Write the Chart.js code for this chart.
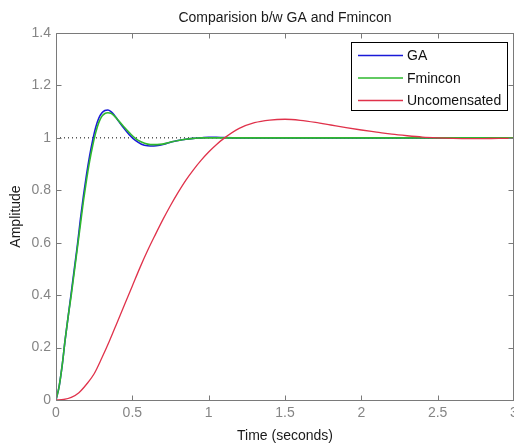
<!DOCTYPE html>
<html>
<head>
<meta charset="utf-8">
<script src="https://cdn.jsdelivr.net/npm/chart.js@4.4.1/dist/chart.umd.min.js"></script>
<style>
html,body{margin:0;padding:0;background:#fff;}
#wrap{width:514px;height:443px;}
</style>
</head>
<body>
<div id="wrap"><canvas id="c" width="514" height="443"></canvas></div>
<script>
// ---- data ----
const titleText = 'Comparision b/w GA and Fmincon';
const xTitle = 'Time (seconds)';
const yTitle = 'Amplitude';
const xTicks = [0, 0.5, 1, 1.5, 2, 2.5, 3];
const xTickLabels = ['0', '0.5', '1', '1.5', '2', '2.5', '3'];
const yTicks = [0, 0.2, 0.4, 0.6, 0.8, 1, 1.2, 1.4];
const yTickLabels = ['0', '0.2', '0.4', '0.6', '0.8', '1', '1.2', '1.4'];

const gaT = [0,0.02,0.04,0.06,0.08,0.10,0.12,0.14,0.16,0.18,0.20,0.22,0.24,0.26,0.28,0.30,0.32,0.34,0.36,0.38,0.40,0.44,0.48,0.52,0.56,0.60,0.64,0.68,0.72,0.76,0.80,0.85,0.90,0.95,1.00,1.05,1.10,1.20,1.50,2.00,2.50,3.00];
const gaY = [0,0.05,0.13,0.23,0.32,0.41,0.50,0.59,0.69,0.78,0.86,0.93,0.99,1.04,1.075,1.095,1.104,1.106,1.10,1.088,1.072,1.04,1.012,0.99,0.976,0.970,0.969,0.972,0.978,0.985,0.990,0.995,0.998,1.000,1.002,1.002,1.001,1.000,1.000,1.000,1.000,1.000];

const fmT = [0,0.02,0.04,0.06,0.08,0.10,0.12,0.14,0.16,0.18,0.20,0.22,0.24,0.26,0.28,0.30,0.32,0.34,0.36,0.38,0.40,0.44,0.48,0.52,0.56,0.60,0.64,0.68,0.72,0.76,0.80,0.85,0.90,0.95,1.00,1.10,1.20,1.50,2.00,2.50,3.00];
const fmY = [0,0.05,0.13,0.23,0.32,0.40,0.49,0.58,0.67,0.76,0.84,0.91,0.97,1.02,1.058,1.082,1.093,1.096,1.094,1.085,1.072,1.045,1.02,0.998,0.984,0.976,0.974,0.975,0.979,0.985,0.990,0.995,0.998,1.000,1.000,1.000,1.000,1.000,1.000,1.000,1.000];

const ucT = [0,0.05,0.10,0.15,0.20,0.25,0.30,0.35,0.40,0.45,0.50,0.55,0.60,0.65,0.70,0.75,0.80,0.85,0.90,0.95,1.00,1.05,1.10,1.20,1.30,1.40,1.50,1.60,1.70,1.80,1.90,2.00,2.10,2.20,2.30,2.40,2.50,2.60,2.70,2.80,2.90,3.00];
const ucY = [0,0.002,0.01,0.028,0.06,0.10,0.16,0.225,0.295,0.365,0.435,0.505,0.57,0.63,0.688,0.742,0.792,0.838,0.878,0.914,0.946,0.974,0.998,1.036,1.058,1.068,1.071,1.067,1.059,1.049,1.039,1.030,1.022,1.014,1.008,1.003,1.000,0.998,0.997,0.997,0.998,0.998];

const refT = [0, 3];
const refY = [1, 1];

const seriesNames = ['GA', 'Fmincon', 'Uncomensated'];
const seriesColors = ['#1a1ad8', '#2eb82e', '#e0324b'];

function pts(t, y) { return t.map((v, i) => ({x: v, y: y[i]})); }

const axisColor = '#7a7a7a';
const labelColor = '#858585';
const FONT = '"Liberation Sans", Arial, Helvetica, sans-serif';

const boxPlugin = {
  id: 'boxPlugin',
  afterDatasetsDraw(chart) {
    const ctx = chart.ctx;
    const a = chart.chartArea;
    const xs = chart.scales.x, ys = chart.scales.y;
    const L = Math.round(a.left) + 0.5, R = Math.round(a.right) - 0.5;
    const T = Math.round(a.top) + 0.5, B = Math.round(a.bottom) + 0.5;
    ctx.save();
    ctx.strokeStyle = axisColor;
    ctx.lineWidth = 1;
    ctx.beginPath();
    ctx.moveTo(L, T); ctx.lineTo(R + 2, T);
    ctx.moveTo(L, T); ctx.lineTo(L, B);
    ctx.moveTo(L, B); ctx.lineTo(R + 2, B);
    ctx.moveTo(R, T); ctx.lineTo(R, B);
    const tl = 5;
    xTicks.forEach(v => {
      const px = Math.round(xs.getPixelForValue(v)) + 0.5;
      ctx.moveTo(px, B); ctx.lineTo(px, B - tl);
      ctx.moveTo(px, T); ctx.lineTo(px, T + tl);
    });
    yTicks.forEach(v => {
      const py = Math.round(ys.getPixelForValue(v)) + 0.5;
      ctx.moveTo(L, py); ctx.lineTo(L + tl, py);
      ctx.moveTo(R, py); ctx.lineTo(R - tl, py);
    });
    ctx.stroke();

    // legend box
    const bx = 351.5, by = 42.5, bw = 156, bh = 68;
    ctx.fillStyle = '#ffffff';
    ctx.fillRect(bx, by, bw, bh);
    ctx.strokeStyle = '#000000';
    ctx.strokeRect(bx, by, bw, bh);
    ctx.font = '14px ' + FONT;
    ctx.textBaseline = 'middle';
    ctx.textAlign = 'left';
    const rows = [55.5, 78, 100.5];
    seriesNames.forEach((n, i) => {
      ctx.strokeStyle = seriesColors[i];
      ctx.lineWidth = 1.3;
      ctx.beginPath();
      ctx.moveTo(358, rows[i]); ctx.lineTo(403, rows[i]);
      ctx.stroke();
      ctx.fillStyle = '#111111';
      ctx.fillText(n, 407, rows[i] + 1);
    });
    ctx.restore();
  }
};

new Chart(document.getElementById('c'), {
  type: 'line',
  data: {
    datasets: [
      { label: 'ref', data: pts(refT, refY), borderColor: '#000000', borderWidth: 1, borderDash: [1, 3], pointRadius: 0, order: 5 },
      { label: seriesNames[0], data: pts(gaT, gaY), borderColor: seriesColors[0], borderWidth: 1.6, pointRadius: 0, cubicInterpolationMode: 'monotone', order: 4 },
      { label: seriesNames[1], data: pts(fmT, fmY), borderColor: seriesColors[1], borderWidth: 1.6, pointRadius: 0, cubicInterpolationMode: 'monotone', order: 3 },
      { label: seriesNames[2], data: pts(ucT, ucY), borderColor: seriesColors[2], borderWidth: 1.3, pointRadius: 0, cubicInterpolationMode: 'monotone', order: 2 }
    ]
  },
  options: {
    responsive: false,
    devicePixelRatio: 1,
    animation: false,
    layout: { padding: { left: 0, right: 0, top: 0, bottom: 0 } },
    plugins: {
      legend: { display: false },
      tooltip: { enabled: false },
      title: {
        display: true,
        text: titleText,
        fullSize: false,
        color: '#1a1a1a',
        font: { family: FONT, size: 14, weight: 'normal', lineHeight: 1 },
        padding: { top: 11, bottom: 8 }
      }
    },
    scales: {
      x: {
        type: 'linear',
        min: 0, max: 3,
        afterBuildTicks: s => { s.ticks = xTicks.map(v => ({value: v})); },
        afterFit: s => { s.height = 43; s.paddingLeft = 0; s.paddingRight = 0; },
        grid: { display: false, drawTicks: false },
        border: { display: false },
        ticks: {
          color: labelColor, font: { family: FONT, size: 14 }, padding: 5, maxRotation: 0, autoSkip: false,
          callback: (v) => { const i = xTicks.indexOf(v); return i >= 0 ? xTickLabels[i] : ''; }
        },
        title: { display: true, text: xTitle, color: '#1a1a1a', font: { family: FONT, size: 14, lineHeight: 1 }, padding: { top: 0, bottom: 0 } }
      },
      y: {
        type: 'linear',
        min: 0, max: 1.4,
        afterBuildTicks: s => { s.ticks = yTicks.map(v => ({value: v})); },
        afterFit: s => { s.width = 56; s.paddingTop = 0; s.paddingBottom = 0; },
        grid: { display: false, drawTicks: false },
        border: { display: false },
        ticks: {
          color: labelColor, font: { family: FONT, size: 14 }, padding: 5, autoSkip: false,
          callback: (v) => { const i = yTicks.indexOf(v); return i >= 0 ? yTickLabels[i] : ''; }
        },
        title: { display: true, text: yTitle, color: '#1a1a1a', font: { family: FONT, size: 14, lineHeight: 1 }, padding: { top: 9, bottom: 0 } }
      }
    }
  },
  plugins: [boxPlugin]
});
</script>
</body>
</html>
